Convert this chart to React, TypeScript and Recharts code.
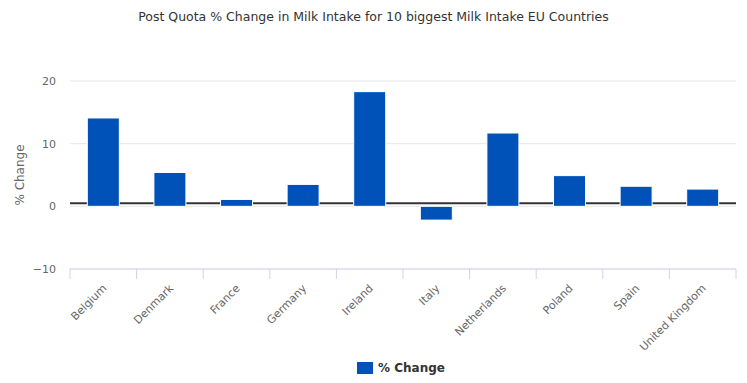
import { BarChart, Bar, XAxis, YAxis, CartesianGrid } from "recharts"

const countries = [
  "Belgium",
  "Denmark",
  "France",
  "Germany",
  "Ireland",
  "Italy",
  "Netherlands",
  "Poland",
  "Spain",
  "United Kingdom",
]
const pctChange = [14.1, 5.4, 1.1, 3.5, 18.3, -2.2, 11.7, 4.9, 3.2, 2.75]
const yTicks = [-10, 0, 10, 20]
const baseline = [0.5]

const data = countries.map((name, i) => ({ name, value: pctChange[i] }))

const FONT = "'DejaVu Sans', sans-serif"
const BAND = 666 / countries.length

function CountryTick(props: any) {
  const { x, y, payload, index } = props
  const isLast = index === countries.length - 1
  const top = y - 8
  return (
    <g>
      <line x1={x - BAND / 2} y1={top} x2={x - BAND / 2} y2={top + 10} stroke="#ccd6eb" />
      {isLast && <line x1={x + BAND / 2} y1={top} x2={x + BAND / 2} y2={top + 10} stroke="#ccd6eb" />}
      <text
        transform={`translate(${x + 4},${top + 20}) rotate(-45)`}
        textAnchor="end"
        fontSize={11}
        fill="#666"
        fontFamily={FONT}
      >
        {payload.value}
      </text>
    </g>
  )
}

export default function App() {
  return (
    <div style={{ position: "relative", width: 747, height: 383, background: "#fff", fontFamily: FONT }}>
      <style>{`body{margin:0}`}</style>
      <div
        style={{
          position: "absolute",
          top: 9,
          left: 0,
          width: 747,
          textAlign: "center",
          fontSize: 12.5,
          color: "#333",
        }}
      >
        Post Quota % Change in Milk Intake for 10 biggest Milk Intake EU Countries
      </div>
      <BarChart
        width={747}
        height={383}
        data={data}
        margin={{ top: 81, right: 11, bottom: 34, left: 0 }}
        barCategoryGap="26%"
      >
        <CartesianGrid vertical={false} stroke="#e6e6e6" />
        <CartesianGrid vertical={false} horizontalValues={baseline} stroke="#333" strokeWidth={2} />
        <XAxis
          dataKey="name"
          interval={0}
          axisLine={{ stroke: "#ccd6eb" }}
          tickLine={false}
          tick={<CountryTick />}
          height={80}
        />
        <YAxis
          domain={[-10, 20]}
          ticks={yTicks}
          width={70}
          axisLine={false}
          tickLine={false}
          tick={{ fill: "#666", fontSize: 11, fontFamily: FONT }}
          tickFormatter={(v: number) => String(v).replace("-", "\u2212")}
          tickMargin={8}
          label={{
            value: "% Change",
            angle: -90,
            position: "insideLeft",
            offset: 20,
            style: { fill: "#666", fontSize: 12, fontFamily: FONT, textAnchor: "middle" },
          }}
        />
        <Bar dataKey="value" fill="#0052b8" stroke="#fff" strokeWidth={1} isAnimationActive={false} />
      </BarChart>
      <div
        style={{
          position: "absolute",
          top: 361,
          left: 357,
          display: "flex",
          alignItems: "center",
          fontSize: 12,
          fontWeight: "bold",
          color: "#333",
        }}
      >
        <span style={{ display: "inline-block", width: 16, height: 12, background: "#0052b8", marginRight: 5 }} />
        % Change
      </div>
    </div>
  )
}
